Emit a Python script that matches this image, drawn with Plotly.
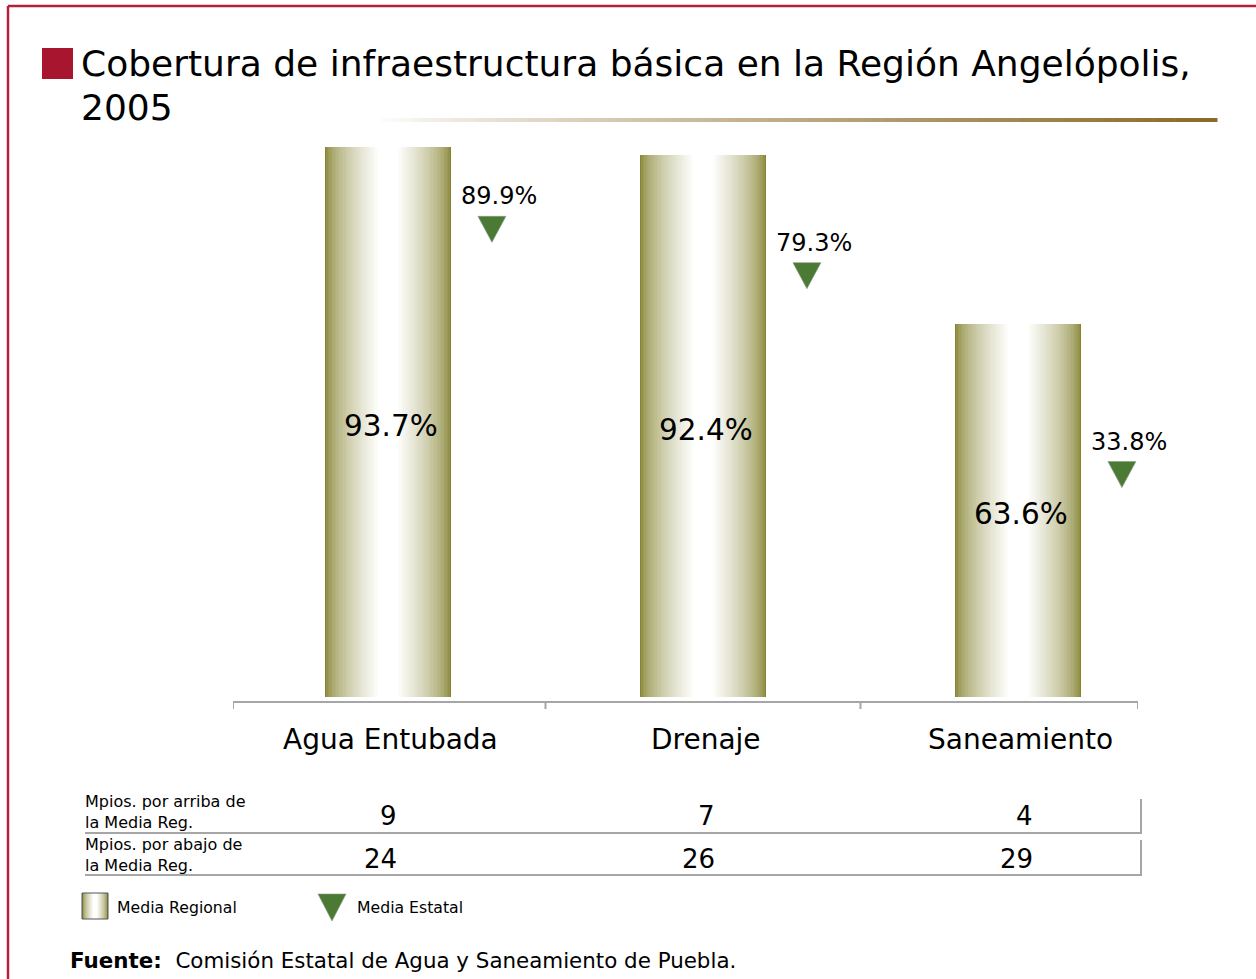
import plotly.graph_objects as go

# --- data ---------------------------------------------------------------
categories = ["Agua Entubada", "Drenaje", "Saneamiento"]
media_regional = [93.7, 92.4, 63.6]      # bars
media_estatal = [89.9, 79.3, 33.8]       # triangles
mpios_arriba = [9, 7, 4]
mpios_abajo = [24, 26, 29]
row_labels = ["Mpios. por arriba de<br>la Media Reg.", "Mpios. por abajo de<br>la Media Reg."]

W, H = 1256, 979
FONT = "DejaVu Sans, Verdana, sans-serif"
OLIVE = (0x86, 0x84, 0x32)
WHITE = (255, 255, 255)
GREEN = "#4B7A34"
GRID = "#A6A6A6"
CRIMSON = "#B3203C"


def px(x):
    return x / W


def py(y):
    return 1 - y / H


def mix(c1, c2, t):
    return "rgb(%d,%d,%d)" % tuple(round(a + (b - a) * t) for a, b in zip(c1, c2))


def shade(f):
    """Colour of a bar layer whose half-width is the fraction f of the full bar."""
    return mix(OLIVE, WHITE, min(1.0, ((1 - f) / 0.85) ** 0.6))


xs = list(range(len(categories)))
fig = go.Figure()

# Cylinder-like bars: overlaid bars of shrinking width, fading olive -> white
N_LAYERS = 45
BAR_W = 0.4
for i in range(N_LAYERS):
    f = 1 - i / N_LAYERS
    fig.add_trace(go.Bar(
        x=xs, y=media_regional, width=BAR_W * f,
        marker=dict(color=shade(f), line=dict(width=0)),
        hoverinfo="skip", showlegend=False,
    ))

annotations = []
shapes = []

# value labels in the middle of each bar
for x, v in zip(xs, media_regional):
    annotations.append(dict(
        x=x, y=v / 2, xref="x", yref="y", text=f"{v:.1f}%", showarrow=False,
        xshift=3, yshift=-4, yanchor="middle",
        font=dict(family=FONT, size=29.5, color="black"),
    ))

# state averages: down triangles on their own scale, with labels above
TRI_DX = 0.33
TRI = "M -14,13 L 14,13 L 0,-13 Z"
for x, v in zip(xs, media_estatal):
    shapes.append(dict(
        type="path", xref="x", yref="y2",
        xsizemode="pixel", ysizemode="pixel",
        xanchor=x + TRI_DX, yanchor=v, path=TRI,
        fillcolor=GREEN, line=dict(color="#8A9A80", width=0.6), layer="above",
    ))
    annotations.append(dict(
        x=x + TRI_DX, y=v, xref="x", yref="y2", text=f"{v:.1f}%",
        showarrow=False, yshift=33, xshift=7, yanchor="middle",
        font=dict(family=FONT, size=24, color="black"),
    ))

# category labels under the axis
for x, c in zip(xs, categories):
    annotations.append(dict(
        x=x, y=py(739), xref="x", yref="paper", text=c, showarrow=False,
        xshift=3, yanchor="middle", font=dict(family=FONT, size=28, color="black"),
    ))

# table below the chart
for row_y, vals, base in ((816, mpios_arriba, 1), (859, mpios_abajo, -7)):
    for x, v in zip(xs, vals):
        annotations.append(dict(
            x=x, y=py(row_y), xref="x", yref="paper", text=str(v), showarrow=False,
            xshift=base + 3 * x, yanchor="middle",
            font=dict(family=FONT, size=26, color="black"),
        ))
for label, y in zip(row_labels, (812, 855)):
    annotations.append(dict(
        x=px(83), y=py(y), xref="paper", yref="paper", text=label, showarrow=False,
        xanchor="left", yanchor="middle", align="left",
        font=dict(family=FONT, size=16, color="black"),
    ))

# title
annotations.append(dict(
    x=px(79), y=py(64), xref="paper", yref="paper",
    text="Cobertura de infraestructura básica en la Región Angelópolis,",
    showarrow=False, xanchor="left", yanchor="middle",
    font=dict(family=FONT, size=36, color="black"),
))
annotations.append(dict(
    x=px(79), y=py(108), xref="paper", yref="paper", text="2005",
    showarrow=False, xanchor="left", yanchor="middle",
    font=dict(family=FONT, size=36, color="black"),
))

# legend
annotations.append(dict(
    x=px(115), y=py(907), xref="paper", yref="paper", text="Media Regional",
    showarrow=False, xanchor="left", yanchor="middle",
    font=dict(family=FONT, size=15.7, color="black"),
))
annotations.append(dict(
    x=px(355), y=py(907), xref="paper", yref="paper", text="Media Estatal",
    showarrow=False, xanchor="left", yanchor="middle",
    font=dict(family=FONT, size=15.7, color="black"),
))

# source
annotations.append(dict(
    x=px(68), y=py(960), xref="paper", yref="paper",
    text="<b>Fuente:</b>  Comisión Estatal de Agua y Saneamiento de Puebla.",
    showarrow=False, xanchor="left", yanchor="middle",
    font=dict(family=FONT, size=21.4, color="black"),
))

# frame
shapes.append(dict(type="line", xref="paper", yref="paper", x0=px(8), x1=1.0,
                   y0=py(6), y1=py(6), line=dict(color=CRIMSON, width=2.5)))
shapes.append(dict(type="line", xref="paper", yref="paper", x0=px(8), x1=px(8),
                   y0=py(6), y1=0, line=dict(color=CRIMSON, width=2.5)))
# title bullet
shapes.append(dict(type="rect", xref="paper", yref="paper", x0=px(42), x1=px(73),
                   y0=py(79), y1=py(48), fillcolor="#A8152F", line=dict(width=0)))
# gold rule under the title, fading in from the left
GOLD = (0x8A, 0x69, 0x27)
N_SEG = 80
x_start, x_end = 380, 1217
for k in range(N_SEG):
    a = x_start + (x_end - x_start) * k / N_SEG
    b = x_start + (x_end - x_start) * (k + 1) / N_SEG + 0.5
    t = (k + 0.5) / N_SEG
    shapes.append(dict(type="rect", xref="paper", yref="paper", x0=px(a), x1=px(b),
                       y0=py(122), y1=py(118),
                       fillcolor=mix(WHITE, GOLD, t ** 0.8), line=dict(width=0)))

# category axis boundary ticks
for xt in (-0.492, 0.5, 1.5, 2.381):
    shapes.append(dict(type="line", xref="x", yref="paper", x0=xt, x1=xt,
                       y0=py(701), y1=py(709), line=dict(color=GRID, width=2)))

# table rules
for y in (833, 875):
    shapes.append(dict(type="line", xref="paper", yref="paper", x0=px(85), x1=px(1142),
                       y0=py(y), y1=py(y), line=dict(color=GRID, width=2)))
for y0, y1 in ((799, 833), (840, 875)):
    shapes.append(dict(type="line", xref="paper", yref="paper", x0=px(1141), x1=px(1141),
                       y0=py(y0), y1=py(y1), line=dict(color=GRID, width=2)))

# legend swatch for the bars
SW_L, SW_R = 82, 108
N_SW = 13
half = (SW_R - SW_L) / 2
cx = (SW_L + SW_R) / 2
for i in range(N_SW):
    f = 1 - i / N_SW
    shapes.append(dict(type="rect", xref="paper", yref="paper",
                       x0=px(cx - half * f), x1=px(cx + half * f), y0=py(919), y1=py(893),
                       fillcolor=shade(f), line=dict(width=0)))
shapes.append(dict(type="rect", xref="paper", yref="paper", x0=px(SW_L), x1=px(SW_R),
                   y0=py(919), y1=py(893), line=dict(color="#555555", width=1)))

# legend triangle
shapes.append(dict(type="path", xref="paper", yref="paper",
                   path="M %f,%f L %f,%f L %f,%f Z" % (px(318), py(894), px(346), py(894),
                                                       px(332), py(921)),
                   fillcolor=GREEN, line=dict(color="#8A9A80", width=0.6)))

fig.update_layout(
    width=W, height=H,
    margin=dict(l=0, r=0, t=0, b=0),
    paper_bgcolor="white", plot_bgcolor="white",
    barmode="overlay", bargap=0,
    showlegend=False,
    xaxis=dict(domain=[px(233), px(1138)], range=[-0.492, 2.381],
               showgrid=False, zeroline=False, showticklabels=False, ticks="",
               showline=True, linecolor=GRID, linewidth=2, fixedrange=True),
    yaxis=dict(domain=[py(701), py(110)], range=[-0.68, 100],
               showgrid=False, zeroline=False, showticklabels=False, ticks="",
               showline=False, fixedrange=True),
    yaxis2=dict(domain=[py(701), py(110)], overlaying="y", range=[-18, 117.2],
                showgrid=False, zeroline=False, showticklabels=False, ticks="",
                showline=False, fixedrange=True),
    annotations=annotations,
    shapes=shapes,
)

fig.write_html("out.html")
